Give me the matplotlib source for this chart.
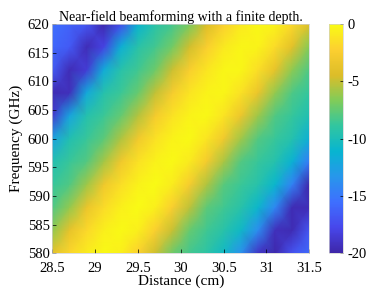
import numpy as np
import matplotlib.pyplot as plt
from matplotlib.colors import LinearSegmentedColormap

plt.rcParams['font.family'] = ['Liberation Serif', 'DejaVu Serif']
plt.rcParams['axes.unicode_minus'] = False

# grid
distance = [28.5, 28.7, 28.9, 29.1, 29.3, 29.5, 29.7, 29.9,
            30.1, 30.3, 30.5, 30.7, 30.9, 31.1, 31.3, 31.5]
freq = [580, 584, 588, 592, 596, 600, 604, 608, 612, 616, 620]

# normalised gain (dB), one row per frequency
gain = [
    [-3.9, -1.9, -0.8, -0.1, -0.6, -2.2, -4.8, -7.2, -8.4, -9.2, -10.6, -13.6, -19.0, -19.8, -17.1, -15.8],
    [-6.3, -3.7, -1.8, -0.7, -0.1, -0.7, -2.3, -5.0, -7.4, -8.5, -9.3, -10.7, -13.9, -19.3, -19.6, -16.9],
    [-8.1, -6.2, -3.5, -1.7, -0.6, 0.0, -0.7, -2.4, -5.2, -7.6, -8.5, -9.3, -10.9, -14.2, -19.6, -19.5],
    [-8.8, -8.0, -6.0, -3.2, -1.5, -0.5, 0.0, -0.8, -2.6, -5.5, -7.8, -8.6, -9.4, -11.0, -14.5, -19.8],
    [-9.7, -8.7, -7.9, -5.8, -3.1, -1.4, -0.5, -0.1, -0.9, -2.8, -5.7, -7.9, -8.7, -9.5, -11.3, -14.9],
    [-12.5, -9.7, -8.7, -7.7, -5.6, -3.0, -1.4, -0.4, -0.1, -1.1, -3.0, -5.9, -7.9, -8.7, -9.6, -11.5],
    [-18.6, -12.3, -9.6, -8.6, -7.5, -5.4, -2.8, -1.3, -0.4, -0.2, -1.2, -3.3, -6.0, -8.0, -8.8, -9.8],
    [-19.6, -19.3, -12.0, -9.5, -8.6, -7.4, -5.1, -2.7, -1.2, -0.4, -0.3, -1.4, -3.5, -6.2, -8.1, -8.9],
    [-16.6, -19.5, -18.5, -11.8, -9.4, -8.5, -7.2, -4.9, -2.5, -1.1, -0.3, -0.3, -1.5, -3.7, -6.4, -8.1],
    [-16.0, -16.7, -19.5, -18.0, -11.5, -9.3, -8.4, -7.1, -4.7, -2.4, -1.0, -0.3, -0.4, -1.7, -4.0, -6.6],
    [-15.5, -16.2, -16.8, -19.8, -17.5, -11.2, -9.3, -8.4, -6.9, -4.5, -2.3, -1.0, -0.2, -0.4, -1.8, -4.2],
]

xticks = [28.5, 29, 29.5, 30, 30.5, 31, 31.5]
xlabels = ['28.5', '29', '29.5', '30', '30.5', '31', '31.5']
yticks = [580, 585, 590, 595, 600, 605, 610, 615, 620]
cbticks = [0, -5, -10, -15, -20]

# parula-like colormap
parula = LinearSegmentedColormap.from_list('parula', [
    (0.2422, 0.1504, 0.6603), (0.2803, 0.2782, 0.9221),
    (0.2440, 0.4358, 0.9988), (0.1540, 0.5902, 0.9218),
    (0.0297, 0.7082, 0.8163), (0.1938, 0.7758, 0.6251),
    (0.5044, 0.7993, 0.3480), (0.8634, 0.7406, 0.1596),
    (0.9892, 0.8136, 0.1885), (0.9769, 0.9839, 0.0805)])

fig = plt.figure(figsize=(3.74, 2.91), dpi=100)
ax = fig.add_axes([0.140, 0.130, 0.687, 0.788])
cax = fig.add_axes([0.880, 0.130, 0.037, 0.788])

mesh = ax.pcolormesh(distance, freq, np.array(gain), shading='gouraud',
                     cmap=parula, vmin=-20, vmax=0)
ax.set_xlim(28.5, 31.5)
ax.set_ylim(580, 620)
ax.set_xticks(xticks)
ax.set_xticklabels(xlabels)
ax.set_yticks(yticks)
ax.tick_params(direction='in', length=3, width=0.5, labelsize=10.5, pad=2)
ax.tick_params(axis='x', pad=6)
for s in ax.spines.values():
    s.set_color('#d0d0d0')
    s.set_linewidth(0.5)
ax.set_xlabel('Distance (cm)', fontsize=11, labelpad=0)
ax.set_ylabel('Frequency (GHz)', fontsize=11, labelpad=3)
ax.set_title('Near-field beamforming with a finite depth.', fontsize=10, pad=2)

cb = fig.colorbar(mesh, cax=cax, ticks=cbticks)
cb.ax.set_yticklabels([str(t) for t in cbticks])
cb.outline.set_edgecolor('#d0d0d0')
cb.outline.set_linewidth(0.5)
cax.tick_params(direction='in', length=2, width=0.5, labelsize=10.5, pad=3)

fig.savefig('out.png', dpi=100)
